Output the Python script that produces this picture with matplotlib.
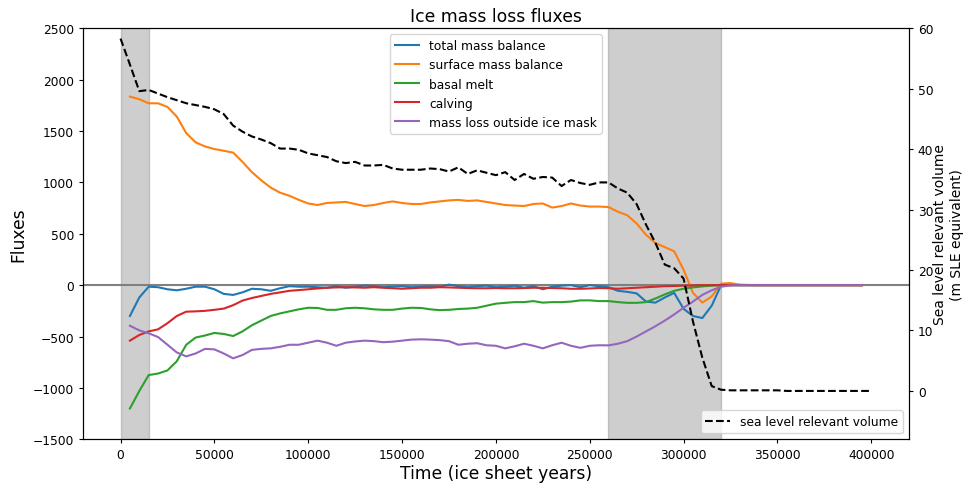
import numpy as np
import matplotlib
matplotlib.use('Agg')
import matplotlib.pyplot as plt

#%% Data

# time axis for the fluxes (ice sheet years)
time_flux = np.arange(5000, 400000, 5000)
# time axis for the sea level relevant volume
time_vol = np.arange(0, 405000, 5000)

total_mass_balance = [
    -300, -120, -15, -20, -40, -50, -35, -15, -15, -40,
    -85, -95, -70, -35, -40, -55, -30, -10, -15, -15,
    -20, -25, -10, -25, -15, -5, -10, -20, -15, -10,
    -20, -15, -10, -15, 5, -10, -20, -10, -5, -20,
    -15, -5, -25, -10, -40, -15, -5, 0, -20, 0,
    -10, -20, -55, -65, -80, -160, -170, -120, -75, -230,
    -300, -320, -200, 0, 5, 0,
    0, 0, 0, 0, 0, 0, 0, 0, 0, 0, 0, 0, 0]

surface_mass_balance = [
    1835, 1810, 1770, 1770, 1735, 1640, 1480, 1390, 1350, 1325,
    1308, 1290, 1200, 1100, 1020, 950, 900, 870, 830, 795,
    780, 800, 805, 810, 790, 770, 780, 800, 815, 800,
    790, 790, 805, 815, 825, 830, 820, 825, 810, 795,
    780, 775, 770, 790, 795, 755, 770, 795, 775, 765,
    765, 760, 715, 680, 600, 490, 410, 370, 330, 150,
    -74, -170, -110, 15, 20, 5,
    2, 0, 0, 0, 0, 0, 0, 0, 0, 0, 0, 0, 0]

basal_melt = [
    -1200, -1030, -875, -860, -830, -740, -580, -510, -490, -465,
    -475, -495, -450, -390, -345, -300, -275, -255, -235, -220,
    -222, -240, -240, -225, -220, -225, -235, -240, -240, -228,
    -220, -222, -235, -243, -240, -232, -228, -220, -200, -180,
    -172, -165, -165, -155, -170, -165, -165, -160, -148, -148,
    -155, -155, -165, -172, -172, -165, -130, -90, -55, -35,
    -22, -12, -5, 0, 0, 0,
    0, 0, 0, 0, 0, 0, 0, 0, 0, 0, 0, 0, 0]

calving = [
    -540, -485, -450, -430, -370, -300, -258, -255, -250, -240,
    -228, -195, -150, -125, -105, -85, -70, -55, -48, -40,
    -32, -25, -22, -20, -22, -25, -20, -25, -30, -35,
    -30, -25, -25, -20, -22, -25, -28, -30, -30, -28,
    -30, -30, -28, -25, -25, -28, -30, -35, -35, -32,
    -28, -30, -35, -30, -25, -20, -15, -10, -8, -5,
    -3, 0, 0, 0, 0, 0,
    0, 0, 0, 0, 0, 0, 0, 0, 0, 0, 0, 0, 0]

mass_loss_outside = [
    -395, -440, -468, -505, -580, -655, -693, -665, -620, -625,
    -665, -712, -680, -630, -620, -615, -600, -580, -580, -560,
    -540, -560, -590, -560, -548, -540, -545, -555, -550, -540,
    -530, -527, -530, -535, -545, -580, -570, -565, -585, -590,
    -615, -595, -570, -590, -615, -585, -560, -590, -610, -590,
    -585, -586, -570, -545, -500, -450, -400, -345, -285, -220,
    -160, -95, -50, -15, -3, 0,
    0, 0, 0, 0, 0, 0, 0, 0, 0, 0, 0, 0, 0]

sea_level_volume = [
    58.3, 54.0, 49.6, 49.8, 49.2, 48.6, 48.1, 47.6, 47.3, 47.0,
    46.6, 45.8, 43.9, 42.9, 42.1, 41.6, 41.0, 40.1, 40.1, 39.9,
    39.3, 39.0, 38.7, 38.0, 37.7, 37.9, 37.3, 37.3, 37.4, 36.8,
    36.6, 36.6, 36.6, 36.8, 36.7, 36.3, 37.0, 35.9, 36.5, 36.1,
    35.7, 36.2, 34.9, 35.9, 35.1, 35.4, 35.3, 33.9, 34.9, 34.4,
    34.1, 34.5, 34.5, 33.5, 32.8, 30.9, 27.5, 24.5, 20.9, 20.3,
    18.6, 11.5, 5.5, 0.8, 0.2, 0.1, 0.1, 0.1, 0.1, 0.1,
    0.1, 0.0, 0.0, 0.0, 0.0, 0.0, 0.0, 0.0, 0.0, 0.0, 0.0]

# periods highlighted in grey
shaded_periods = [(0, 15000), (260000, 320000)]

#%% Plot

fig = plt.figure(figsize=(9.64, 4.85), dpi=100)
ax = fig.add_axes([0.0861, 0.0922, 0.8566, 0.8474])

for start, end in shaded_periods:
    ax.axvspan(start, end, color='grey', alpha=0.38)

ax.axhline(0, color='grey')

ax.plot(time_flux, total_mass_balance, label='total mass balance')
ax.plot(time_flux, surface_mass_balance, label='surface mass balance')
ax.plot(time_flux, basal_melt, label='basal melt')
ax.plot(time_flux, calving, label='calving')
ax.plot(time_flux, mass_loss_outside, label='mass loss outside ice mask')

ax.set_ylim(-1500, 2500)
ax.set_xlim(-20000, 420000)
ax.tick_params(labelsize=8.8, length=3)
ax.set_xlabel('Time (ice sheet years)', fontsize=12.3, labelpad=2)
ax.set_ylabel('Fluxes', fontsize=12.3)
ax.set_title('Ice mass loss fluxes', fontsize=12.4, pad=5)
ax.legend(loc='upper center', fontsize=8.8)

# second axis for the sea level relevant volume
ax2 = ax.twinx()
ax2.plot(time_vol, sea_level_volume, 'k--', label='sea level relevant volume')
ax2.set_ylim(-8, 60)
ax2.tick_params(labelsize=8.8, length=3)
ax2.set_ylabel('Sea level relevant volume\n(m SLE equivalent)', fontsize=10, labelpad=0)
ax2.legend(loc='lower right', fontsize=8.8)

fig.savefig('out.png', dpi=100)
